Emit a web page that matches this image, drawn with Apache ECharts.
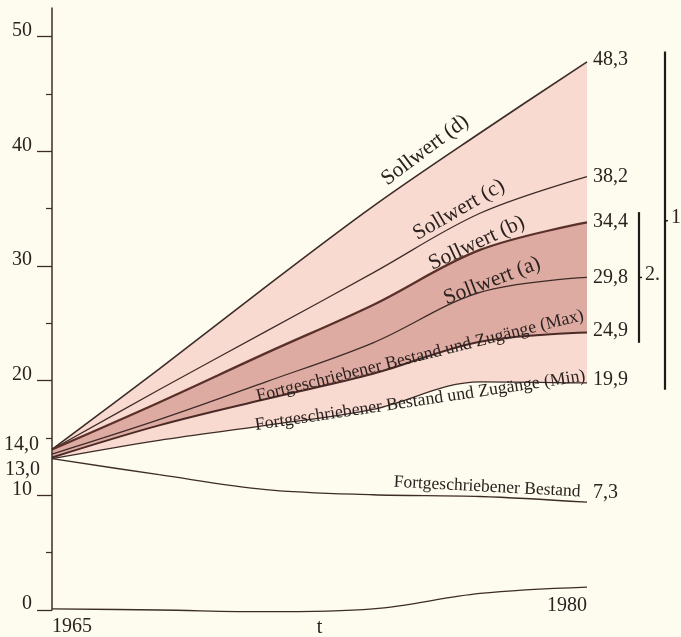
<!DOCTYPE html>
<html><head><meta charset="utf-8">
<script src="https://cdn.jsdelivr.net/npm/echarts@6/dist/echarts.min.js"></script>
<style>html,body{margin:0;padding:0;background:#fdfcee;}#c{width:681px;height:637px;}</style>
</head><body><div id="c"></div>
<script>
// ---- data ----
const years    = [1965, 1968, 1971, 1974, 1977, 1980];
const sollD    = [14.0, 21.0, 28.2, 35.2, 41.6, 47.8];
const sollC    = [14.0, 19.2, 24.3, 29.4, 34.6, 37.8];
const sollB    = [14.0, 18.1, 22.4, 26.6, 31.4, 33.8];
const sollA    = [13.6, 16.6, 19.9, 23.3, 27.7, 29.0];
const zugMax   = [13.3, 16.1, 18.4, 20.6, 23.4, 24.2];
const zugMin   = [13.2, 14.8, 16.1, 17.5, 19.9, 19.8];
const bestand  = [13.2, 11.8, 10.5, 10.05, 9.9, 9.4];
const bottom   = [0.1, 0.0, -0.15, 0.1, 1.45, 2.0];
const endValueLabels = ['48,3', '38,2', '34,4', '29,8', '24,9', '19,9', '7,3'];
const lineNames = ['Sollwert (d)', 'Sollwert (c)', 'Sollwert (b)', 'Sollwert (a)',
  'Fortgeschriebener Bestand und Zugänge (Max)', 'Fortgeschriebener Bestand und Zugänge (Min)',
  'Fortgeschriebener Bestand'];
const yTickValues = [0, 10, 20, 30, 40, 50];
const yMinorValues = [5, 15, 25, 35, 45];
const startLabels = ['14,0', '13,0'];
const xLabels = ['1965', '1980'];
const xName = 't';
const bracketLabels = ['1.', '2.'];

// ---- styles ----
const FONT = 'Liberation Serif';
const INK = '#2b2220';
const LINE = '#3d2b28';
const BG = '#fdfcee';
const LIGHT = '#f8dad0';
const DARK = '#deaba2';
const S = 0.35;

const pairs = a => years.map((y, i) => [y, a[i]]);

// layered fills (drawn from the value line down to the axis, later layers cover earlier ones)
function fill(arr, color, z) {
  return {type: 'line', data: pairs(arr), smooth: S, symbol: 'none', silent: true, z,
    lineStyle: {width: 0, opacity: 0}, areaStyle: {color, opacity: 1}};
}
function lineSeries(name, arr, width, color, lbl, lblOffset) {
  return {type: 'line', name, data: pairs(arr), smooth: S, symbol: 'none', silent: true, z: 6, clip: false,
    lineStyle: {width, color},
    endLabel: lbl == null ? {show: false} : {show: true, formatter: () => lbl, distance: 6,
      offset: lblOffset || [0, -1], color: INK, fontFamily: FONT, fontSize: 20}};
}

const chart = echarts.init(document.getElementById('c'), null, {renderer: 'canvas'});
const option = {
  animation: false,
  backgroundColor: BG,
  grid: {left: 52, right: 94, top: 8, bottom: 27, outerBoundsMode: 'none', containLabel: false},
  xAxis: [{
    type: 'value', min: 1965, max: 1980, z: 10,
    axisLine: {show: false}, axisTick: {show: false}, splitLine: {show: false},
    axisLabel: {customValues: [1965], formatter: () => xLabels[0], align: 'left', margin: 7,
      color: INK, fontFamily: FONT, fontSize: 20},
    name: xName, nameLocation: 'middle', nameGap: 8, nameMoveOverlap: false,
    nameTextStyle: {color: INK, fontFamily: FONT, fontSize: 20, verticalAlign: 'top'}
  }, {
    type: 'value', min: 1965, max: 1980, position: 'bottom', z: 10,
    axisLine: {show: false}, axisTick: {show: false}, splitLine: {show: false},
    axisLabel: {customValues: [1980], formatter: () => xLabels[1], align: 'right', verticalAlign: 'middle',
      margin: -4, color: INK, fontFamily: FONT, fontSize: 20}
  }],
  yAxis: [{
    type: 'value', min: 0, max: 52.5, z: 10,
    axisLine: {show: true, lineStyle: {color: LINE, width: 1.5}},
    axisTick: {show: true, customValues: yTickValues, length: 15, lineStyle: {color: LINE, width: 1.3}},
    axisLabel: {customValues: yTickValues, margin: 20, color: INK, fontFamily: FONT, fontSize: 20,
      formatter: v => '{u|' + v + '}', rich: {u: {fontFamily: FONT, fontSize: 20, color: INK, padding: [0, 0, 12, 0]}}},
    splitLine: {show: false}
  }, {
    type: 'value', min: 0, max: 52.5, position: 'left',
    axisLine: {show: false},
    axisTick: {show: true, customValues: yMinorValues, length: 6, lineStyle: {color: LINE, width: 1.2}},
    axisLabel: {show: false}, splitLine: {show: false}
  }],
  series: [
    fill(sollD, LIGHT, 1),
    fill(sollB, DARK, 2),
    fill(zugMax, LIGHT, 3),
    fill(zugMin, BG, 4),
    lineSeries(lineNames[0], sollD, 1.6, LINE, endValueLabels[0], [0, -2]),
    lineSeries(lineNames[1], sollC, 1.2, LINE, endValueLabels[1], [0, 0]),
    lineSeries(lineNames[2], sollB, 2.3, '#5a302a', endValueLabels[2], [0, -1]),
    lineSeries(lineNames[3], sollA, 1.3, LINE, endValueLabels[3], [0, 0]),
    lineSeries(lineNames[4], zugMax, 2.0, '#4a2a26', endValueLabels[4], [0, -2]),
    lineSeries(lineNames[5], zugMin, 1.3, LINE, endValueLabels[5], [0, -3]),
    lineSeries(lineNames[6], bestand, 1.3, LINE, endValueLabels[6], [0, -9]),
    lineSeries('unten', bottom, 1.3, LINE, null)
  ]
};
chart.setOption(option);

// ---- annotations positioned through the chart's own coordinate system ----
const px = (x, y) => chart.convertToPixel({gridIndex: 0}, [x, y]);
const deg = d => d * Math.PI / 180;
const textAnchors = [
  {at: [1975.46, 40.1], rot: 37, size: 21.5},
  {at: [1976.41, 34.9], rot: 30, size: 21.5},
  {at: [1976.91, 32.0], rot: 25, size: 21.5},
  {at: [1977.34, 28.7], rot: 21, size: 21.5},
  {at: [1975.32, 22.15], rot: 14, size: 17.8},
  {at: [1975.32, 18.25], rot: 8.5, size: 17.8},
  {at: [1977.2, 10.73], rot: -3, size: 17.5}
];
const g = [];
textAnchors.forEach((a, i) => {
  const p = px(a.at[0], a.at[1]);
  g.push({type: 'text', x: p[0], y: p[1], rotation: deg(a.rot), silent: true, z: 10,
    style: {text: lineNames[i], x: 0, y: 0, align: 'center', verticalAlign: 'middle',
      font: a.size + 'px "' + FONT + '"', fill: INK}});
});
// start value labels
const p14 = px(1965, 14), p13 = px(1965, 13);
g.push({type: 'text', silent: true, style: {text: startLabels[0], x: p14[0] - 13, y: p14[1] - 4.5,
  align: 'right', verticalAlign: 'middle', font: '20px "' + FONT + '"', fill: INK}});
g.push({type: 'text', silent: true, style: {text: startLabels[1], x: p13[0] - 12, y: p13[1] + 9,
  align: 'right', verticalAlign: 'middle', font: '20px "' + FONT + '"', fill: INK}});
// brackets
const xEnd = px(1980, 0)[0];
const brackets = [
  {dx: 78, top: 48.7, bot: 19.2, label: bracketLabels[0]},
  {dx: 52, top: 34.7, bot: 23.3, label: bracketLabels[1]}
];
brackets.forEach(b => {
  const x = xEnd + b.dx;
  const yt = px(1980, b.top)[1], yb = px(1980, b.bot)[1], ym = (yt + yb) / 2;
  g.push({type: 'line', silent: true, shape: {x1: x, y1: yt, x2: x, y2: yb}, style: {stroke: '#1f1a18', lineWidth: 2.2}});
  g.push({type: 'line', silent: true, shape: {x1: x, y1: ym, x2: x + 3, y2: ym}, style: {stroke: '#1f1a18', lineWidth: 1.5}});
  g.push({type: 'text', silent: true, style: {text: b.label, x: x + 6, y: ym - 3, align: 'left', verticalAlign: 'middle',
    font: '20px "' + FONT + '"', fill: INK}});
});
chart.setOption({graphic: g});
</script></body></html>
